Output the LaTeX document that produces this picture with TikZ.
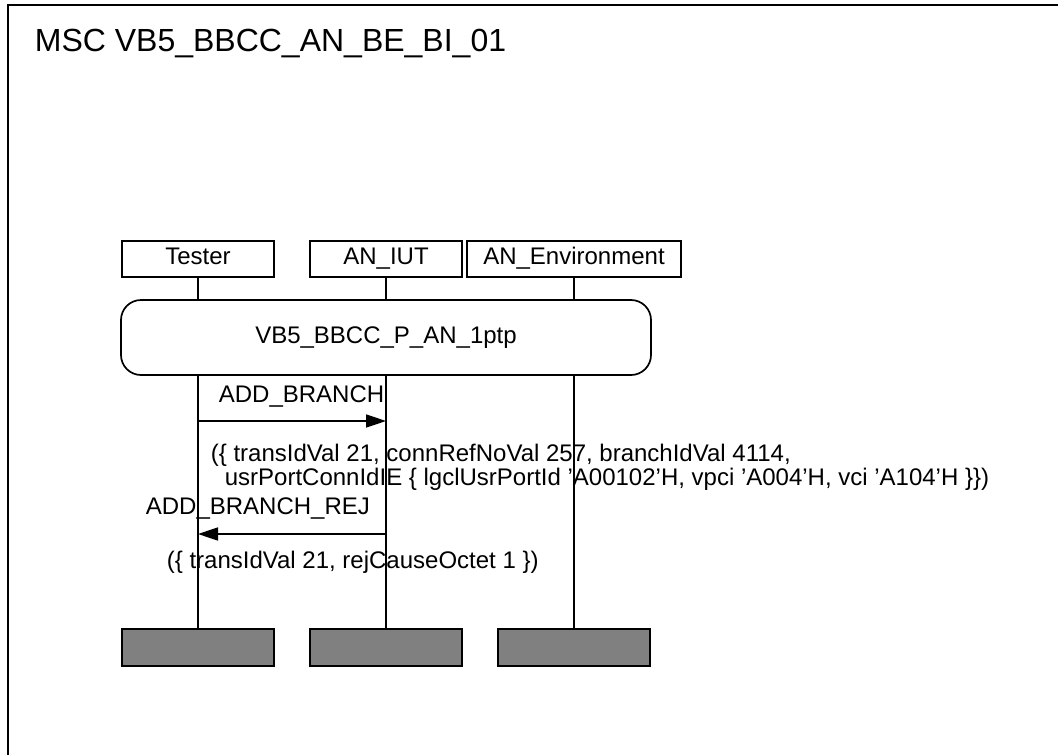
\documentclass[tikz,border=0pt]{standalone}
\usepackage{fontspec}
\setmainfont{Liberation Sans}
\usetikzlibrary{arrows.meta}
\definecolor{endgray}{RGB}{128,128,128}
\begin{document}
\begin{tikzpicture}[x=1pt,y=-1pt,
  font=\fontsize{24}{28}\selectfont, line width=1.7pt,
  inst/.style={draw, minimum height=36pt, inner sep=0pt, text height=17pt, text depth=5pt, anchor=north},
  endbox/.style={draw, fill=endgray, minimum width=152pt, minimum height=37pt, inner sep=0pt, anchor=north},
  msg/.style={-{Triangle[length=20pt,width=13pt]}},
  lbl/.style={anchor=base west, inner sep=0pt}]
\useasboundingbox (0,0) rectangle (1058,755);
\clip (0,0) rectangle (1058,755);
\fill[white] (0,0) rectangle (1058,755);
\draw[line width=2pt] (8,800) -- (8,5) -- (1100,5);
\node[lbl, font=\fontsize{32}{38}\selectfont] (title) at (34,51) {MSC VB5\_BBCC\_AN\_BE\_BI\_01};
% instances
\node[inst, minimum width=152pt] (tester) at (198,240) {Tester};
\node[inst, minimum width=152pt] (iut) at (386,240) {AN\_IUT};
\node[inst, minimum width=214pt] (env) at (574,240) {AN\_Environment};
% reference
\node[draw, rounded corners=20pt, minimum width=530pt, minimum height=75pt, inner sep=0pt] (ref) at (386,337.5) {VB5\_BBCC\_P\_AN\_1ptp};
% end boxes
\node[endbox] (tend) at (198,628) {};
\node[endbox] (iend) at (386,628) {};
\node[endbox] (eend) at (574,628) {};
% lifelines
\draw (tester.south) -- (tester.south |- ref.north);
\draw (iut.south) -- (iut.south |- ref.north);
\draw (env.south) -- (env.south |- ref.north);
\draw (tester.south |- ref.south) -- (tend.north);
\draw (iut.south |- ref.south) -- (iend.north);
\draw (env.south |- ref.south) -- (eend.north);
% messages
\coordinate (m1a) at (198,421);
\coordinate (m1b) at (386,421);
\coordinate (m2a) at (386,534);
\coordinate (m2b) at (198,534);
\draw[msg] (m1a) -- (m1b);
\draw[msg] (m2a) -- (m2b);
\node[lbl] (l1) at (218,402) {ADD\_BRANCH};
\node[lbl] (p1a) at (210,461) {(\{ transIdVal 21, connRefNoVal 257, branchIdVal 4114,};
\node[lbl] (p1b) at (224,485) {usrPortConnIdIE \{ lgclUsrPortId 'A00102'H, vpci 'A004'H, vci 'A104'H \}\})};
\node[lbl] (l2) at (145,514) {ADD\_BRANCH\_REJ};
\node[lbl] (p2) at (166,568) {(\{ transIdVal 21, rejCauseOctet 1 \})};
\end{tikzpicture}
\end{document}
